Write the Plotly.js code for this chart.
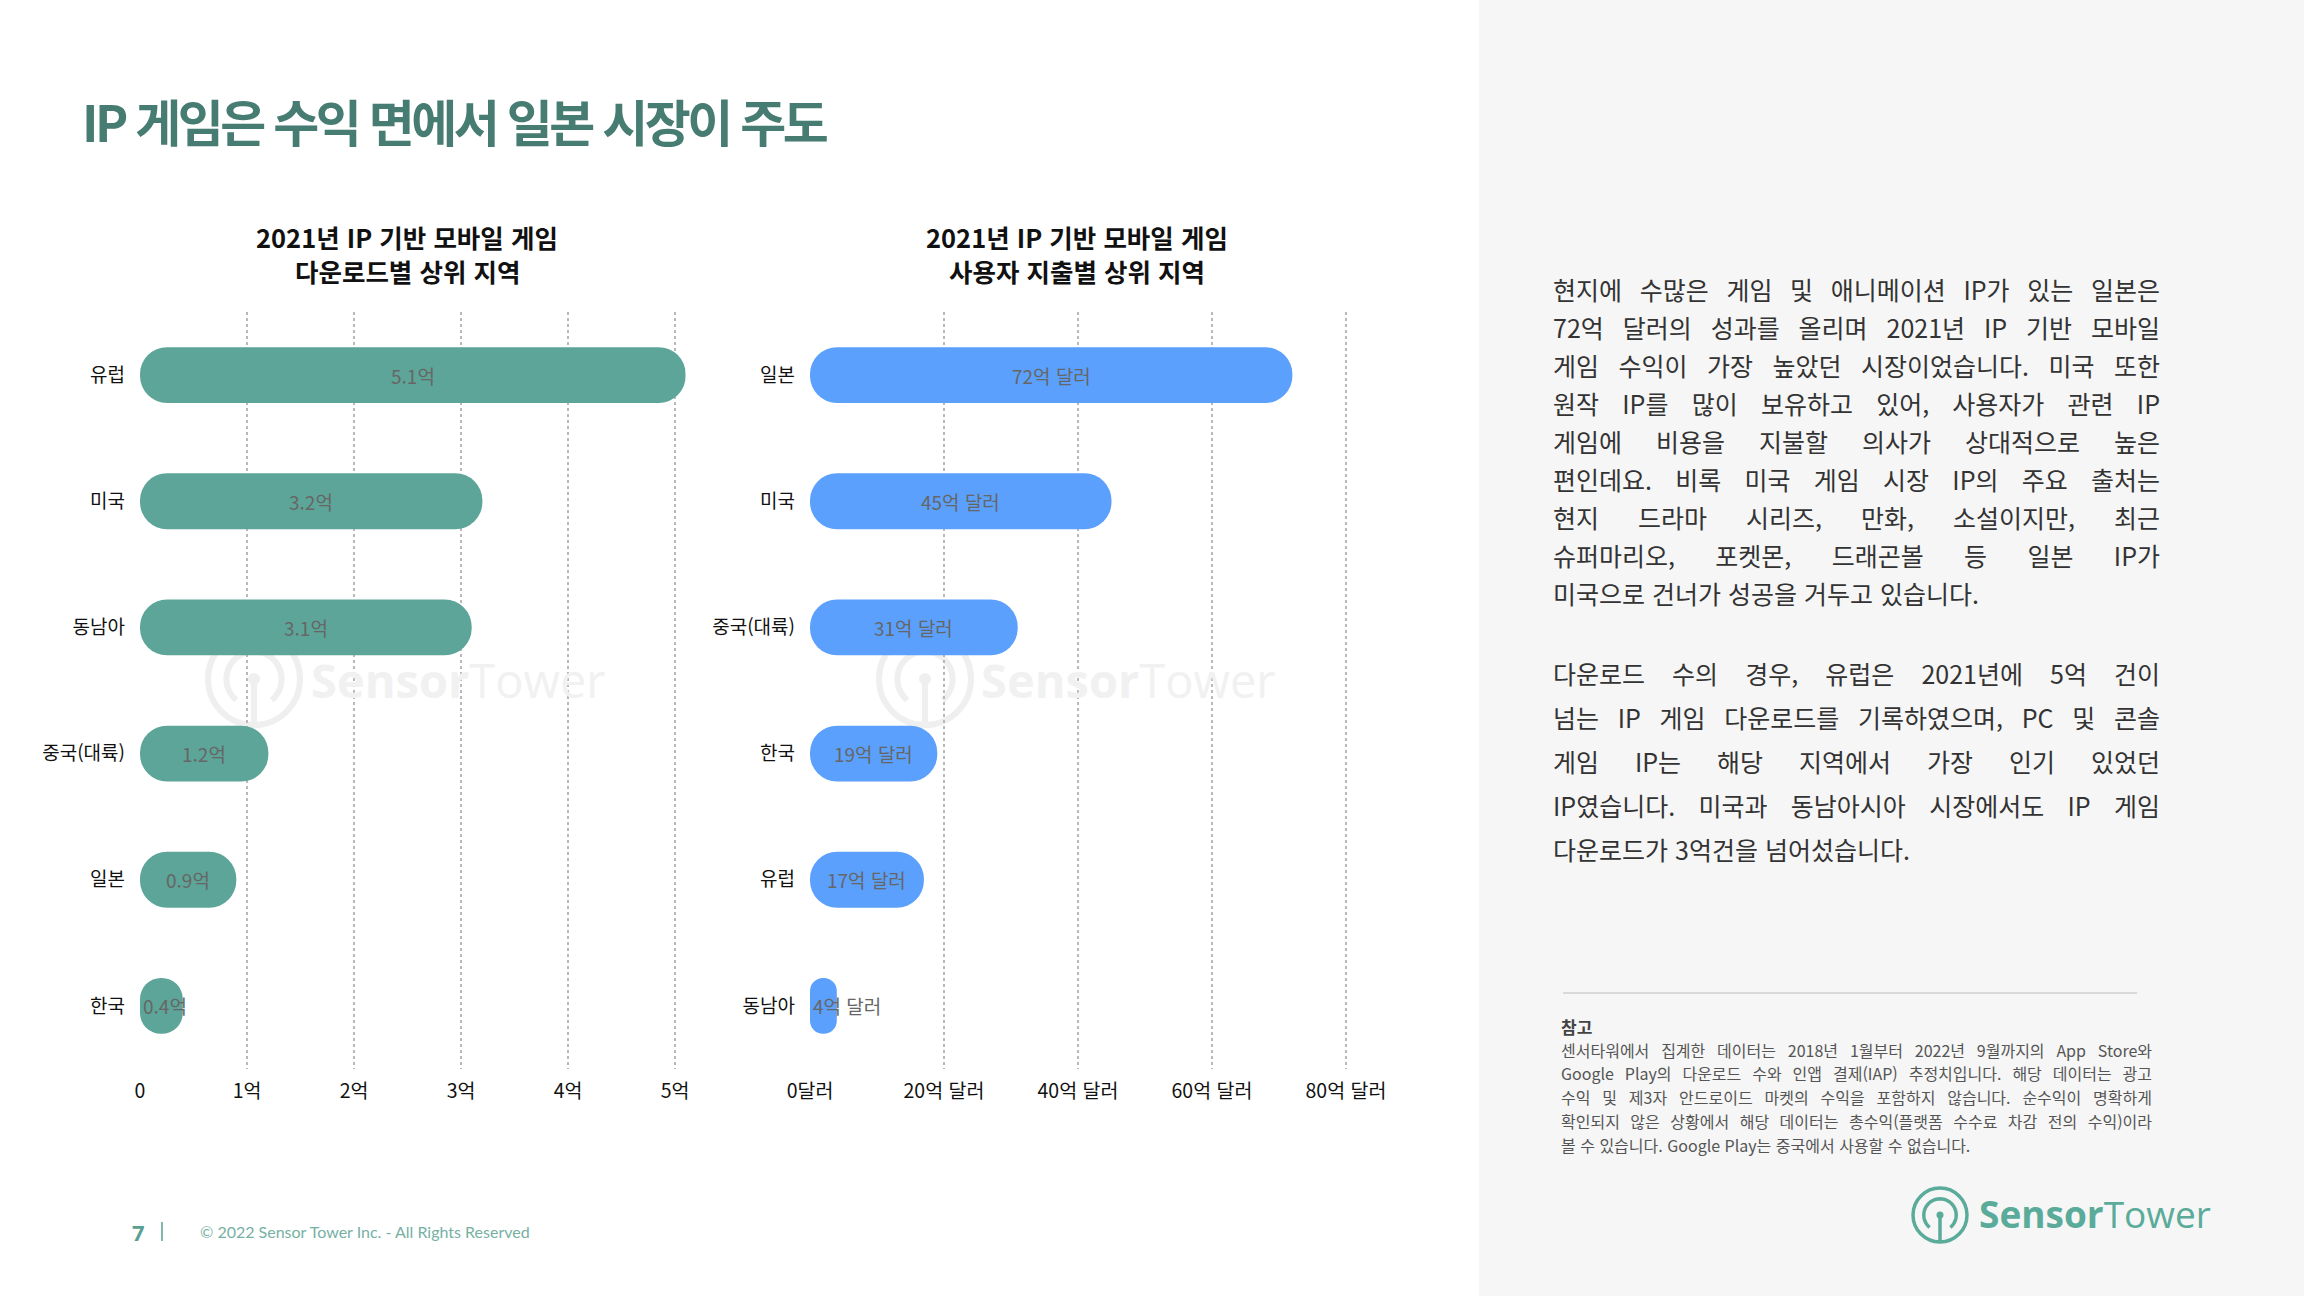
<!DOCTYPE html>
<html lang="ko">
<head>
<meta charset="utf-8">
<script src="https://cdn.plot.ly/plotly-3.0.1.min.js"></script>
<style>
  html, body { margin: 0; padding: 0; background: #ffffff; overflow: hidden; }
  #wrap { position: relative; width: 2304px; height: 1296px; }
  #chart { position: absolute; left: 0; top: 0; width: 2304px; height: 1296px; }
  .txt { position: absolute; font-family: 'Noto Sans CJK KR', 'Noto Sans', sans-serif; }
  #mainTitle { left: 82px; top: 88px; line-height: 64px; font-size: 50px; font-weight: 700;
               color: #477c73; letter-spacing: -3.5px; white-space: nowrap; }
  .para { color: #333333; font-size: 25px; width: 607px; left: 1553px; }
  .para div, .note div { text-align: justify; text-align-last: justify; }
  .para div.last, .note div.last { text-align-last: left; }
  #p1 { top: 270px; line-height: 38px; }
  #p2 { top: 651px; line-height: 44px; }
  .note { left: 1561px; top: 1015px; width: 591px; font-size: 16px; line-height: 23.7px; color: #555555; }
  .note .head { font-weight: 700; font-size: 17px; color: #444444; text-align: left; text-align-last: left; }
</style>
</head>
<body>
<div id="wrap">
  <div id="chart"></div>
  <div id="mainTitle" class="txt"></div>
  <div id="p1" class="txt para"></div>
  <div id="p2" class="txt para"></div>
  <div id="note" class="txt note"></div>
</div>
<script>
// ---------------- DATA ----------------
const dlRegions = ['유럽', '미국', '동남아', '중국(대륙)', '일본', '한국'];
const dlValues = [5.1, 3.2, 3.1, 1.2, 0.9, 0.4];
const dlLabelSuffix = '억';
const dlTickVals = [0, 1, 2, 3, 4, 5];
const dlTickText = ['0', '1억', '2억', '3억', '4억', '5억'];

const revRegions = ['일본', '미국', '중국(대륙)', '한국', '유럽', '동남아'];
const revValues = [72, 45, 31, 19, 17, 4];
const revLabelSuffix = '억 달러';
const revTickVals = [0, 20, 40, 60, 80];
const revTickText = ['0달러', '20억 달러', '40억 달러', '60억 달러', '80억 달러'];

const mainTitle = 'IP 게임은 수익 면에서 일본 시장이 주도';
const dlTitle = ['2021년 IP 기반 모바일 게임', '다운로드별 상위 지역'];
const revTitle = ['2021년 IP 기반 모바일 게임', '사용자 지출별 상위 지역'];

const para1 = [
  '현지에 수많은 게임 및 애니메이션 IP가 있는 일본은',
  '72억 달러의 성과를 올리며 2021년 IP 기반 모바일',
  '게임 수익이 가장 높았던 시장이었습니다. 미국 또한',
  '원작 IP를 많이 보유하고 있어, 사용자가 관련 IP',
  '게임에 비용을 지불할 의사가 상대적으로 높은',
  '편인데요. 비록 미국 게임 시장 IP의 주요 출처는',
  '현지 드라마 시리즈, 만화, 소설이지만, 최근',
  '슈퍼마리오, 포켓몬, 드래곤볼 등 일본 IP가',
  '미국으로 건너가 성공을 거두고 있습니다.'
];
const para2 = [
  '다운로드 수의 경우, 유럽은 2021년에 5억 건이',
  '넘는 IP 게임 다운로드를 기록하였으며, PC 및 콘솔',
  '게임 IP는 해당 지역에서 가장 인기 있었던',
  'IP였습니다. 미국과 동남아시아 시장에서도 IP 게임',
  '다운로드가 3억건을 넘어섰습니다.'
];
const noteHead = '참고';
const noteLines = [
  '센서타워에서 집계한 데이터는 2018년 1월부터 2022년 9월까지의 App Store와',
  'Google Play의 다운로드 수와 인앱 결제(IAP) 추정치입니다. 해당 데이터는 광고',
  '수익 및 제3자 안드로이드 마켓의 수익을 포함하지 않습니다. 순수익이 명확하게',
  '확인되지 않은 상황에서 해당 데이터는 총수익(플랫폼 수수료 차감 전의 수익)이라',
  '볼 수 있습니다. Google Play는 중국에서 사용할 수 없습니다.'
];
const pageNumber = '7';
const copyright = '© 2022 Sensor Tower Inc. - All Rights Reserved';

// ---------------- STYLE ----------------
const W = 2304, H = 1296;
const TEAL = '#5da598';
const BLUE = '#5ba0fc';
const LOGO = '#5aab9a';
const KFONT = "'Noto Sans CJK KR', 'Noto Sans', sans-serif";
const px = x => x / W;
const py = y => 1 - y / H;

// ---------------- HTML TEXT ----------------
document.getElementById('mainTitle').textContent = mainTitle;
function fillLines(id, lines, head) {
  const el = document.getElementById(id);
  if (head) {
    const h = document.createElement('div');
    h.className = 'head';
    h.textContent = head;
    el.appendChild(h);
  }
  lines.forEach((t, i) => {
    const d = document.createElement('div');
    d.textContent = t;
    if (i === lines.length - 1) d.className = 'last';
    el.appendChild(d);
  });
}
fillLines('p1', para1);
fillLines('p2', para2);
fillLines('note', noteLines, noteHead);

// ---------------- CHART GEOMETRY ----------------
const plotTop = 312, plotBottom = 1069;
const dlLeft = 140, dlUnit = 107, dlMax = 5.1;
const revLeft = 810, revUnit = 6.7, revMax = 80.3;

// floating bars (explicit base at zero) are rounded at both ends -> pill shape
function pillTrace(regions, values, color, xa, ya) {
  return {
    type: 'bar', orientation: 'h', y: regions, x: values, base: values.map(() => 0),
    xaxis: xa, yaxis: ya,
    marker: { color: color, cornerradius: '50%', line: { width: 0 } },
    hoverinfo: 'skip', textposition: 'none'
  };
}

const data = [
  pillTrace(dlRegions, dlValues, TEAL, 'x', 'y'),
  pillTrace(revRegions, revValues, BLUE, 'x2', 'y2')
];

function estW(s, fs) {
  let w = 0;
  for (const ch of s) {
    if (/[\uAC00-\uD7A3]/.test(ch)) w += fs;
    else if (ch === ' ') w += 0.25 * fs;
    else w += 0.56 * fs;
  }
  return w;
}

function barLabels(regions, values, suffix, unitPx, xref, yref) {
  return values.map((v, i) => {
    const label = v + suffix;
    const fits = estW(label, 19) + 6 <= v * unitPx;
    return {
      xref: xref, yref: yref, x: fits ? v / 2 : 0, y: regions[i],
      xanchor: fits ? 'center' : 'left', xshift: fits ? 0 : 1,
      yanchor: 'middle', text: label, showarrow: false,
      font: { family: KFONT, size: 19, color: '#666666' }
    };
  });
}

function logoShapes(cx, cy, R, color, lw, layer) {
  const shapes = [];
  shapes.push({ type: 'circle', xref: 'paper', yref: 'paper', layer: layer,
    x0: px(cx - R), x1: px(cx + R), y0: py(cy + R), y1: py(cy - R),
    line: { color: color, width: lw }, fillcolor: 'rgba(0,0,0,0)' });
  const r = R * 0.6;
  let path = '';
  const steps = 40;
  for (let k = 0; k <= steps; k++) {
    const a = (230 - 280 * k / steps) * Math.PI / 180;
    const x = cx + r * Math.cos(a), y = cy - r * Math.sin(a);
    path += (k === 0 ? 'M' : 'L') + px(x).toFixed(6) + ',' + py(y).toFixed(6);
  }
  shapes.push({ type: 'path', xref: 'paper', yref: 'paper', layer: layer, path: path,
    line: { color: color, width: lw } });
  shapes.push({ type: 'line', xref: 'paper', yref: 'paper', layer: layer,
    x0: px(cx), x1: px(cx), y0: py(cy), y1: py(cy + R),
    line: { color: color, width: lw } });
  const d = R * 0.13;
  shapes.push({ type: 'circle', xref: 'paper', yref: 'paper', layer: layer,
    x0: px(cx - d), x1: px(cx + d), y0: py(cy + d), y1: py(cy - d),
    line: { color: color, width: 0 }, fillcolor: color });
  return shapes;
}

function xAxis(domainL, domainR, range, tv, tt) {
  return {
    domain: [px(domainL), px(domainR)], range: range, fixedrange: true,
    tickmode: 'array', tickvals: tv, ticktext: tt, ticks: '', ticklabelstandoff: 8,
    showgrid: true, gridcolor: '#b9b9b9', gridwidth: 1.5, griddash: 'dot',
    zeroline: true, zerolinecolor: 'rgba(0,0,0,0)', showline: false,
    tickfont: { family: KFONT, size: 19.5, color: '#111111' }
  };
}
function yAxis(regions, anchor) {
  return {
    domain: [py(plotBottom), py(plotTop)], type: 'category',
    categoryorder: 'array', categoryarray: regions,
    range: [regions.length - 0.5, -0.5], fixedrange: true, anchor: anchor,
    ticks: '', ticklabelstandoff: 14, showgrid: false, zeroline: false, showline: false,
    tickfont: { family: KFONT, size: 19, color: '#111111' }
  };
}

const titleFont = { family: KFONT, size: 25.5, color: '#111111', weight: 700 };
const annotations = [].concat(
  barLabels(dlRegions, dlValues, dlLabelSuffix, dlUnit, 'x', 'y'),
  barLabels(revRegions, revValues, revLabelSuffix, revUnit, 'x2', 'y2'),
  [
    { xref: 'paper', yref: 'paper', x: px(407), y: py(236.5), text: dlTitle[0], showarrow: false,
      xanchor: 'center', yanchor: 'middle', font: titleFont },
    { xref: 'paper', yref: 'paper', x: px(407), y: py(270), text: dlTitle[1], showarrow: false,
      xanchor: 'center', yanchor: 'middle', font: titleFont },
    { xref: 'paper', yref: 'paper', x: px(1077), y: py(236.5), text: revTitle[0], showarrow: false,
      xanchor: 'center', yanchor: 'middle', font: titleFont },
    { xref: 'paper', yref: 'paper', x: px(1077), y: py(270), text: revTitle[1], showarrow: false,
      xanchor: 'center', yanchor: 'middle', font: titleFont },
    // watermarks
    { xref: 'paper', yref: 'paper', x: px(309), y: py(680), text: '<b>Sensor</b>Tower', showarrow: false,
      xanchor: 'left', yanchor: 'middle', font: { family: 'Open Sans', size: 47, color: '#f1f1f1' } },
    { xref: 'paper', yref: 'paper', x: px(979), y: py(680), text: '<b>Sensor</b>Tower', showarrow: false,
      xanchor: 'left', yanchor: 'middle', font: { family: 'Open Sans', size: 47, color: '#f1f1f1' } },
    // footer
    { xref: 'paper', yref: 'paper', x: px(138), y: py(1232), text: '<b>' + pageNumber + '</b>', showarrow: false,
      xanchor: 'center', yanchor: 'middle', font: { family: 'Open Sans', size: 22, color: '#5a9f8f' } },
    { xref: 'paper', yref: 'paper', x: px(198), y: py(1231), text: copyright, showarrow: false,
      xanchor: 'left', yanchor: 'middle', font: { family: 'Lato', size: 16, color: '#76b0a3' } },
    // logo text
    { xref: 'paper', yref: 'paper', x: px(1977), y: py(1213), text: '<b>Sensor</b>Tower', showarrow: false,
      xanchor: 'left', yanchor: 'middle', font: { family: 'Open Sans', size: 37, color: LOGO } }
  ]
);

const shapes = [].concat(
  [
    { type: 'rect', xref: 'paper', yref: 'paper', x0: px(1479), x1: 1, y0: 0, y1: 1,
      fillcolor: '#f6f6f6', line: { width: 0 }, layer: 'below' },
    { type: 'line', xref: 'paper', yref: 'paper', x0: px(1563), x1: px(2137), y0: py(993), y1: py(993),
      line: { color: '#cfcfcf', width: 1.5 } },
    { type: 'line', xref: 'paper', yref: 'paper', x0: px(162), x1: px(162), y0: py(1222), y1: py(1241),
      line: { color: '#5a9f8f', width: 1.5 } }
  ],
  logoShapes(254, 679, 46, '#efefef', 6, 'below'),
  logoShapes(925, 679, 46, '#efefef', 6, 'below'),
  logoShapes(1940, 1215, 27, LOGO, 3.5, 'above')
);

const layout = {
  width: W, height: H,
  margin: { l: 0, r: 0, t: 0, b: 0, pad: 0 },
  paper_bgcolor: '#ffffff', plot_bgcolor: 'rgba(0,0,0,0)',
  showlegend: false, barmode: 'overlay', bargap: 0.557,
  font: { family: KFONT },
  xaxis: xAxis(dlLeft, dlLeft + dlMax * dlUnit, [0, dlMax], dlTickVals, dlTickText),
  yaxis: yAxis(dlRegions, 'x'),
  xaxis2: Object.assign(xAxis(revLeft, revLeft + revMax * revUnit, [0, revMax], revTickVals, revTickText), { anchor: 'y2' }),
  yaxis2: yAxis(revRegions, 'x2'),
  annotations: annotations,
  shapes: shapes
};

Plotly.newPlot('chart', data, layout, { displayModeBar: false, staticPlot: true });
</script>
</body>
</html>
